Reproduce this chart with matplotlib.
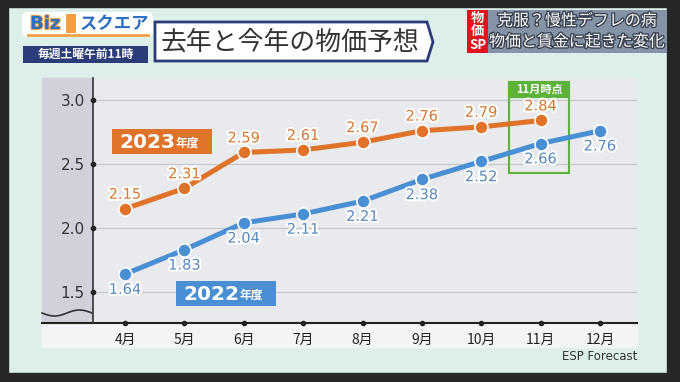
import numpy as np
import matplotlib.pyplot as plt
from matplotlib.patches import Rectangle, Polygon, FancyBboxPatch
import matplotlib.patheffects as pe

plt.rcParams['font.family'] = ['Noto Sans CJK JP', 'DejaVu Sans']

# data
months = ['4月', '5月', '6月', '7月', '8月', '9月', '10月', '11月', '12月']
fy2023 = [2.15, 2.31, 2.59, 2.61, 2.67, 2.76, 2.79, 2.84]
fy2022 = [1.64, 1.83, 2.04, 2.11, 2.21, 2.38, 2.52, 2.66, 2.76]
yticks = [1.5, 2.0, 2.5, 3.0]

ORANGE = '#E0732A'
BLUE = '#4A8FD3'
ORANGE_TXT = '#D8772F'
BLUE_TXT = '#5889BC'
GREEN = '#5DB33A'
NAVY = '#2B3C78'

fig = plt.figure(figsize=(6.8, 3.82), dpi=100)
fig.patch.set_facecolor('#DCEFEA')

# background layer in pixel coords
bg = fig.add_axes([0, 0, 1, 1], zorder=0)
bg.set_xlim(0, 680)
bg.set_ylim(382, 0)
bg.axis('off')
T = bg.transData

# dark tv frame
for r in [(0, 0, 680, 7), (0, 0, 8, 382), (667, 0, 13, 382), (0, 373, 680, 9)]:
    bg.add_patch(Rectangle(r[:2], r[2], r[3], color='#262626', zorder=1))

# chart panel
bg.add_patch(Rectangle((42, 78), 595, 269, color='#E9EAED', zorder=1))
bg.add_patch(Rectangle((42, 323), 595, 24, color='#F3F4F5', zorder=1))
bg.add_patch(Rectangle((42, 78), 50, 245, color='#D0D1DA', zorder=1))
xs = np.linspace(42, 92, 80)
bg.plot(xs, 313 + 3 * np.sin((xs - 42) / 50 * 2 * np.pi), color='#333333', lw=1.2, zorder=2)
bg.plot([42, 637], [323, 323], color='#222222', lw=1.5, zorder=2)
bg.text(637, 357, 'ESP Forecast', ha='right', va='center', fontsize=8.5,
        color='#333333', family=['DejaVu Sans'], zorder=2)

# header: logo
bg.add_patch(FancyBboxPatch((22, 12), 131, 25, boxstyle='round,pad=0,rounding_size=6',
                            fc='white', ec='none', zorder=2))
bg.text(30, 24, 'Biz', ha='left', va='center', fontsize=13, fontweight='bold', color='#2D6FC0',
        family=['DejaVu Sans'], zorder=3,
        path_effects=[pe.withStroke(linewidth=1.5, foreground='#F0A040')])
bg.add_patch(Rectangle((66, 14), 10, 19, fc='#F0A040', ec='none', zorder=3))
bg.text(80, 24, 'スクエア', ha='left', va='center', fontsize=12.5, fontweight='bold',
        color='#2D6FC0', zorder=3)
bg.plot([28, 148], [35, 35], color='#F0A040', lw=2, zorder=3)
bg.add_patch(Rectangle((23, 46), 125, 17, fc=NAVY, ec='none', zorder=2))
bg.text(85.5, 54.5, '毎週土曜午前11時', ha='center', va='center', fontsize=8.5,
        fontweight='bold', color='white', zorder=3)

# header: title
bg.add_patch(Polygon([(155, 22), (427, 22), (433, 42), (427, 61), (155, 61)],
                     closed=True, fc='white', ec=NAVY, lw=2, zorder=2))
bg.text(161, 42, '去年と今年の物価予想', ha='left', va='center', fontsize=18.6,
        color='#333333', zorder=3)

# header: right side
bg.add_patch(Rectangle((467, 10), 21, 43, fc='#E0141E', ec='none', zorder=2))
for yy, s in [(18, '物'), (31, '価'), (45, 'SP')]:
    bg.text(477.5, yy, s, ha='center', va='center', fontsize=9.5, fontweight='bold',
            color='white', zorder=3)
bg.add_patch(Rectangle((488, 10), 179, 43, fc='#8593A6', ec='none', zorder=2))
for yy, s in [(21, '克服？慢性デフレの病'), (42, '物価と賃金に起きた変化')]:
    bg.text(577, yy, s, ha='center', va='center', fontsize=11.5, color='white', zorder=3,
            path_effects=[pe.withStroke(linewidth=2, foreground='#3A4150')])

# chart axes
ax = fig.add_axes([93 / 680, 1 - 323 / 382, (637 - 93) / 680, (323 - 78) / 382], zorder=1)
ax.patch.set_alpha(0)
xl = (-0.539, 8.623)
yl = (1.258, 3.172)
ax.set_xlim(*xl)
ax.set_ylim(*yl)
for s in ['top', 'right', 'bottom']:
    ax.spines[s].set_visible(False)
ax.spines['left'].set_color('#333333')
ax.spines['left'].set_linewidth(1.2)

x = np.arange(len(months))
ax.set_xticks(x)
ax.set_xticklabels(months, fontsize=10, color='#222222')
ax.set_yticks(yticks)
ax.set_yticklabels([f'{v:.1f}' for v in yticks], fontsize=11, color='#333333',
                   family=['DejaVu Sans'])
ax.tick_params(length=0)
ax.tick_params(axis='x', pad=7)
ax.tick_params(axis='y', pad=6)
ax.grid(axis='y', color='#C6C8CD', lw=0.9)
ax.set_axisbelow(True)
ax.plot(x, [yl[0]] * len(x), 'o', ms=3, color='#222222', clip_on=False, zorder=6)
ax.plot([xl[0]] * len(yticks), yticks, 'o', ms=3, color='#222222', clip_on=False, zorder=6)

# 11月時点 box
ax.add_patch(Rectangle((6.47, 2.43), 1.01, 0.71, fc='none', ec=GREEN, lw=1.5, zorder=3))
ax.add_patch(Rectangle((6.47, 3.023), 1.01, 0.117, fc=GREEN, ec=GREEN, lw=1.5, zorder=3))
ax.text(6.975, 3.081, '11月時点', ha='center', va='center', fontsize=8, fontweight='bold',
        color='white', zorder=4)

# series
ax.plot(x[:len(fy2023)], fy2023, color=ORANGE, lw=3.6, marker='o', ms=9.5,
        mec='white', mew=1.2, zorder=5, clip_on=False)
ax.plot(x, fy2022, color=BLUE, lw=3.6, marker='o', ms=9.5,
        mec='white', mew=1.2, zorder=5, clip_on=False)
stroke = [pe.withStroke(linewidth=3, foreground='white')]
for xi, v in zip(x, fy2023):
    ax.annotate(f'{v:.2f}', (xi, v), xytext=(0, 10.5), textcoords='offset points',
                ha='center', va='center', fontsize=10.5, color=ORANGE_TXT,
                family=['DejaVu Sans'], path_effects=stroke, zorder=6)
for xi, v in zip(x, fy2022):
    ax.annotate(f'{v:.2f}', (xi, v), xytext=(0, -11), textcoords='offset points',
                ha='center', va='center', fontsize=10.5, color=BLUE_TXT,
                family=['DejaVu Sans'], path_effects=stroke, zorder=6)

# series name boxes
for (bx, by, c, yr) in [(112, 129, ORANGE, '2023'), (176, 281, BLUE, '2022')]:
    ax.add_patch(Rectangle((bx, by), 100, 25, fc=c, ec='none', transform=T,
                           clip_on=False, zorder=7))
    ax.text(bx + 7, by + 13, yr, ha='left', va='center', fontsize=14.5, fontweight='bold',
            color='white', family=['DejaVu Sans'], transform=T, zorder=8)
    ax.text(bx + 64, by + 14, '年度', ha='left', va='center', fontsize=8.5,
            fontweight='bold', color='white', transform=T, zorder=8)

fig.savefig('out.png', dpi=100)
